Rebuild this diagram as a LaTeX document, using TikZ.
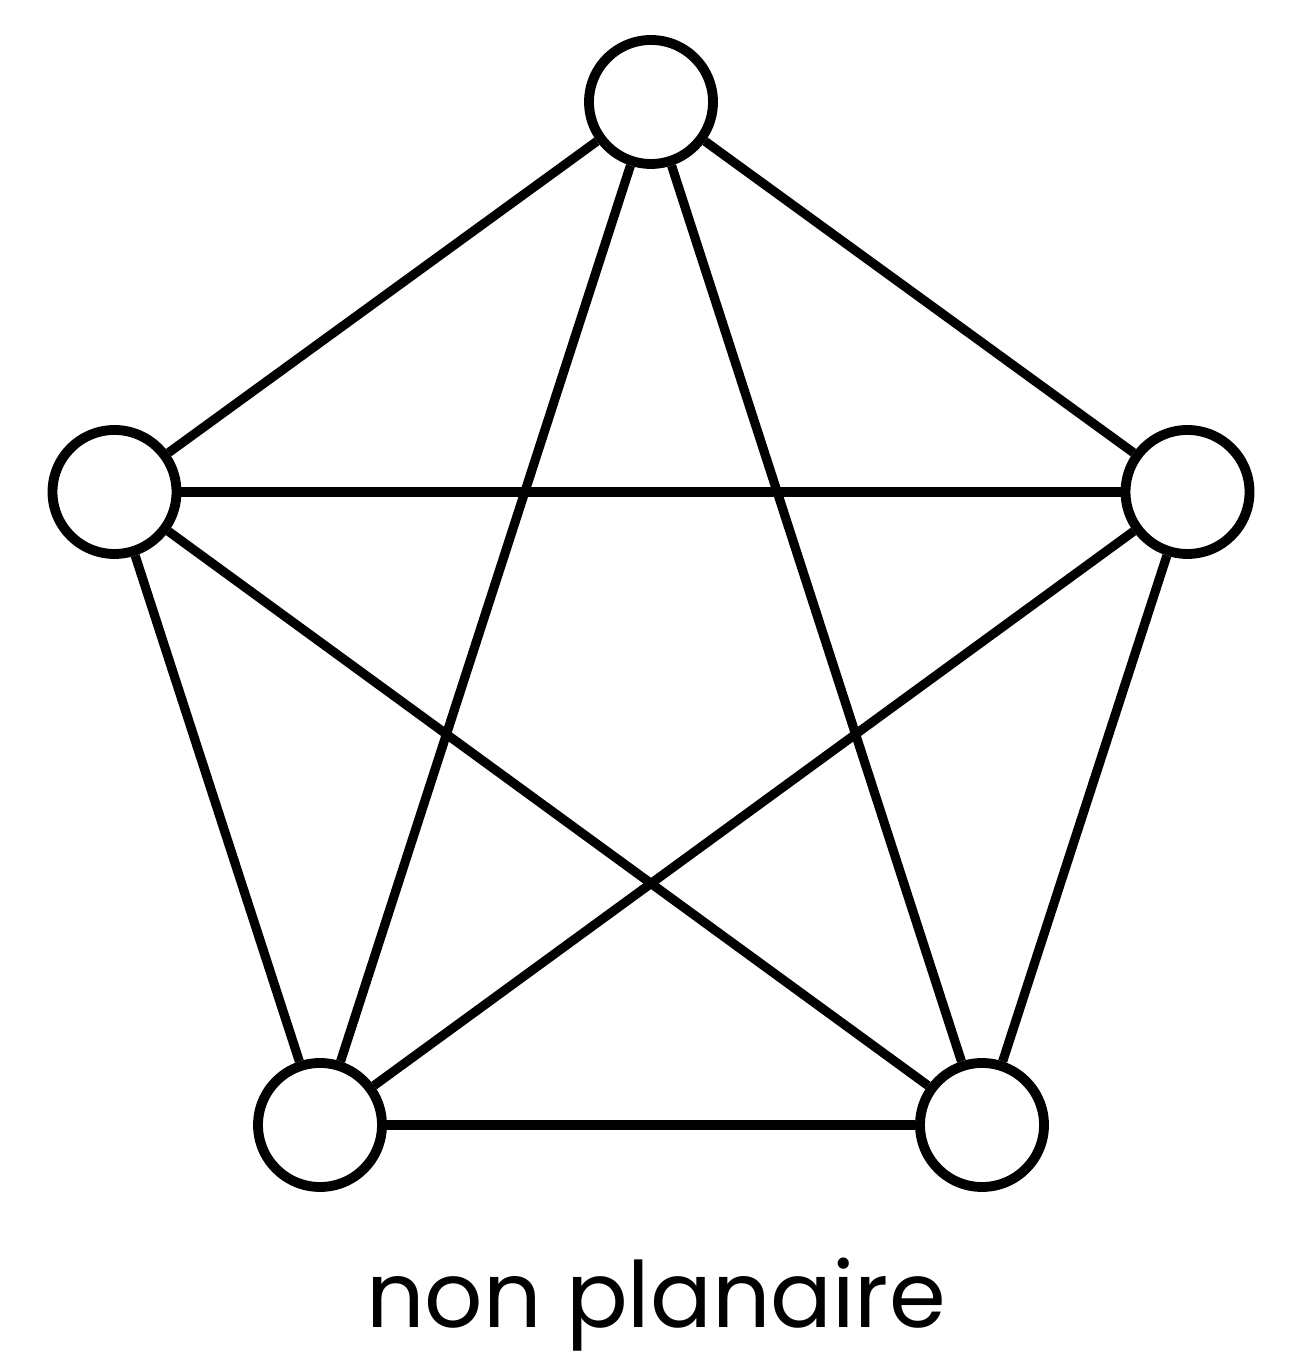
\documentclass[tikz,border=0pt]{standalone}
\usepackage{fontspec}
\setmainfont{Poppins}
\usepackage{tikz}
\tikzset{
  kvertex/.style={draw, circle, line width=2.8pt, minimum size=1.24cm, inner sep=0pt, fill=white},
  kedge/.style={line width=2.6pt},
  klabel/.style={font=\fontsize{26}{30}\selectfont, anchor=base, inner sep=0pt}
}
\begin{document}
\begin{tikzpicture}
\useasboundingbox (0,0) rectangle (13.05,13.55);
% vertices
\node[kvertex] (vtop) at (6.51,12.53) {};
\node[kvertex] (vleft) at (1.145,8.63) {};
\node[kvertex] (vright) at (11.875,8.63) {};
\node[kvertex] (vbl) at (3.20,2.30) {};
\node[kvertex] (vbr) at (9.82,2.30) {};

% edges
\foreach \a/\b in {vtop/vleft, vtop/vright, vtop/vbl, vtop/vbr,
                   vleft/vright, vleft/vbl, vleft/vbr,
                   vright/vbl, vright/vbr, vbl/vbr}
  \draw[kedge] (\a) -- (\b);

% caption
\node[klabel] (caption) at (6.56,0.27) {non planaire};
\end{tikzpicture}
\end{document}
